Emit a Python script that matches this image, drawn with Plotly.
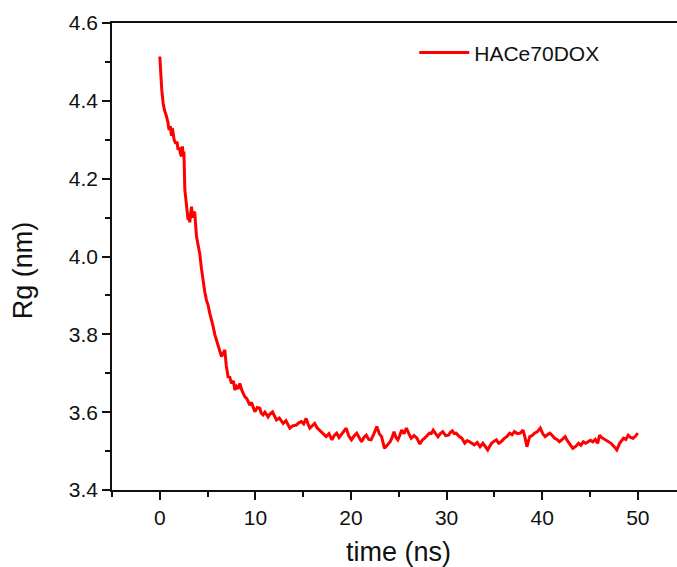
import plotly.graph_objects as go

# time (ns) and Rg (nm) values
time_ns = [
    0.0, 0.05, 0.1, 0.2, 0.35, 0.5, 0.7, 0.85, 0.97, 1.1, 1.22, 1.3, 1.39, 1.5, 1.67, 1.8,
    1.91, 2.05, 2.15, 2.27, 2.37, 2.44, 2.52, 2.62, 2.8, 2.96, 3.05, 3.14, 3.22, 3.32, 3.4,
    3.48, 3.57, 3.66, 3.75, 3.84, 4.0, 4.18, 4.35, 4.53, 4.7, 4.88, 5.05, 5.23, 5.4, 5.58,
    5.75, 5.93, 6.1, 6.3, 6.45, 6.6, 6.8, 6.95, 7.14, 7.32, 7.5, 7.7, 7.85, 8.02, 8.2, 8.37,
    8.6, 8.89, 9.1, 9.41, 9.6, 9.94, 10.2, 10.46, 10.6, 10.8, 11.0, 11.33, 11.5, 11.79, 12.0,
    12.2, 12.5, 12.9, 13.2, 13.6, 13.9, 14.3, 14.5, 14.8, 15.05, 15.3, 15.5, 15.7, 15.95,
    16.2, 16.45, 16.7, 17.0, 17.4, 17.7, 18.0, 18.25, 18.5, 18.75, 19.0, 19.25, 19.5, 19.75,
    20.05, 20.3, 20.6, 20.85, 21.1, 21.35, 21.6, 21.85, 22.1, 22.4, 22.7, 22.95, 23.2, 23.5,
    23.8, 24.1, 24.3, 24.5, 24.7, 24.9, 25.1, 25.3, 25.55, 25.8, 26.05, 26.3, 26.6, 26.9,
    27.2, 27.45, 27.7, 27.95, 28.2, 28.4, 28.6, 28.85, 29.1, 29.35, 29.6, 29.9, 30.2, 30.4,
    30.6, 30.8, 31.0, 31.3, 31.6, 31.9, 32.15, 32.4, 32.65, 32.9, 33.2, 33.5, 33.8, 34.05,
    34.3, 34.5, 34.7, 34.95, 35.2, 35.45, 35.7, 36.0, 36.3, 36.6, 36.85, 37.1, 37.4, 37.7,
    38.0, 38.2, 38.4, 38.55, 38.7, 38.95, 39.2, 39.5, 39.8, 40.05, 40.3, 40.55, 40.8, 41.05,
    41.3, 41.55, 41.8, 42.1, 42.4, 42.6, 42.8, 43.0, 43.2, 43.5, 43.8, 44.05, 44.3, 44.55,
    44.8, 45.05, 45.3, 45.55, 45.8, 46.0, 46.2, 46.5, 46.9, 47.2, 47.5, 47.8, 48.1, 48.5,
    48.75, 49.0, 49.25, 49.5, 49.75, 50.0,
]
rg_nm = [
    4.514, 4.49, 4.454, 4.43, 4.394, 4.375, 4.36, 4.345, 4.325, 4.335, 4.31, 4.33, 4.318,
    4.30, 4.29, 4.295, 4.274, 4.28, 4.265, 4.257, 4.283, 4.257, 4.27, 4.171, 4.13, 4.094,
    4.10, 4.088, 4.11, 4.128, 4.105, 4.10, 4.115, 4.111, 4.08, 4.051, 4.03, 4.008, 3.97,
    3.931, 3.91, 3.888, 3.875, 3.854, 3.84, 3.82, 3.80, 3.786, 3.77, 3.755, 3.743, 3.75,
    3.76, 3.72, 3.691, 3.69, 3.674, 3.68, 3.657, 3.666, 3.66, 3.674,
    3.655, 3.64, 3.635, 3.618, 3.625, 3.601, 3.612, 3.61, 3.598, 3.593, 3.60, 3.588, 3.595,
    3.601, 3.59, 3.58, 3.585, 3.571, 3.578, 3.559, 3.565, 3.567, 3.572, 3.576, 3.57, 3.584,
    3.57, 3.559, 3.565, 3.571, 3.56, 3.554, 3.548, 3.537, 3.545, 3.529, 3.54, 3.546, 3.535,
    3.543, 3.55, 3.559, 3.54, 3.529, 3.538, 3.546, 3.535, 3.524, 3.535, 3.541, 3.53, 3.529,
    3.545, 3.563, 3.545, 3.537, 3.507, 3.515, 3.524, 3.535, 3.55, 3.535, 3.529, 3.54, 3.554,
    3.545, 3.559, 3.545, 3.533, 3.54, 3.533, 3.518, 3.528, 3.533, 3.54, 3.546, 3.545, 3.554,
    3.545, 3.537, 3.545, 3.55, 3.54, 3.541, 3.548, 3.552, 3.545, 3.546, 3.538, 3.533, 3.52,
    3.527, 3.524, 3.52, 3.516, 3.522, 3.511, 3.52, 3.512, 3.503, 3.512, 3.52, 3.525, 3.529,
    3.52, 3.524, 3.532, 3.537, 3.546, 3.542, 3.55, 3.545, 3.546, 3.554, 3.535, 3.511, 3.525,
    3.537, 3.54, 3.546, 3.55, 3.559, 3.545, 3.537, 3.542, 3.546, 3.54, 3.533, 3.53, 3.524,
    3.53, 3.537, 3.528, 3.52, 3.512, 3.507, 3.512, 3.52, 3.515, 3.524, 3.52, 3.524, 3.528,
    3.524, 3.53, 3.52, 3.541, 3.535, 3.53, 3.524, 3.52, 3.512, 3.503, 3.52, 3.533, 3.53,
    3.541, 3.535, 3.533, 3.538, 3.546,
]
series_name = "HACe70DOX"
x_title = "time (ns)"
y_title = "Rg (nm)"
x_ticks = [0, 10, 20, 30, 40, 50]
y_ticks = [3.4, 3.6, 3.8, 4.0, 4.2, 4.4, 4.6]

FONT = "Liberation Sans, Arial, sans-serif"
TXT = "#111111"

fig = go.Figure()
fig.add_trace(go.Scatter(
    x=time_ns, y=rg_nm, mode="lines", name=series_name,
    line=dict(color="#ff0000", width=3),
))

axis_common = dict(
    showline=True, linecolor="#111111", linewidth=1.6,
    ticks="outside", ticklen=8, tickwidth=1.5, tickcolor="#111111",
    showgrid=False, zeroline=False,
    tickfont=dict(family=FONT, size=21, color=TXT),
)

fig.update_layout(
    width=677, height=567,
    margin=dict(l=112, r=0, t=23, b=77),
    paper_bgcolor="white", plot_bgcolor="white",
    showlegend=True,
    legend=dict(
        x=0.535, y=0.936, xanchor="left", yanchor="middle",
        bgcolor="rgba(0,0,0,0)", itemwidth=50,
        font=dict(family=FONT, size=21, color=TXT),
    ),
    xaxis=dict(
        range=[-5, 54.1], tickvals=x_ticks, mirror=True,
        minor=dict(dtick=5, tick0=0, ticks="outside", ticklen=5, tickwidth=1.5,
                   tickcolor="#111111"),
        **axis_common,
    ),
    yaxis=dict(
        range=[3.4, 4.6], tickvals=y_ticks, tickformat=".1f",
        minor=dict(dtick=0.1, tick0=3.4, ticks="outside", ticklen=5, tickwidth=1.5,
                   tickcolor="#111111"),
        **axis_common,
    ),
    annotations=[
        dict(text=x_title, xref="paper", yref="paper", x=0.5074, y=-0.1328,
             xanchor="center", yanchor="middle", showarrow=False,
             font=dict(family=FONT, size=27, color=TXT)),
        dict(text=y_title, xref="paper", yref="paper", x=-0.157, y=0.471,
             xanchor="center", yanchor="middle", showarrow=False, textangle=-90,
             font=dict(family=FONT, size=27, color=TXT)),
    ],
)

fig.write_html("out.html")
